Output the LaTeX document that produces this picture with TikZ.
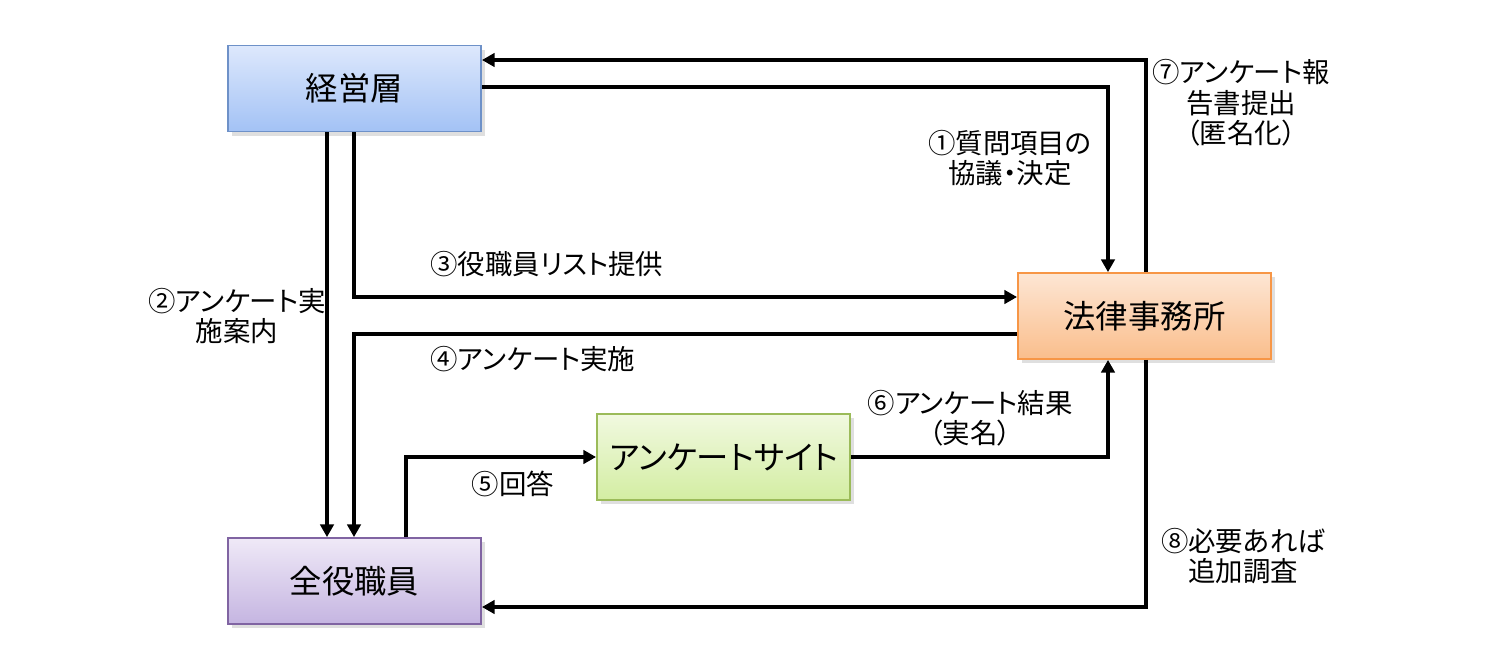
\documentclass[tikz,border=0pt]{standalone}
\usepackage{fontspec}
\setmainfont{Noto Sans CJK JP}[RawFeature={+palt}]
\usetikzlibrary{arrows.meta}
\usetikzlibrary{shadows}

\definecolor{mgmttop}{RGB}{221,232,252}
\definecolor{mgmtbot}{RGB}{163,194,245}
\definecolor{mgmtline}{RGB}{110,145,200}
\definecolor{lawtop}{RGB}{253,230,212}
\definecolor{lawbot}{RGB}{250,190,140}
\definecolor{lawline}{RGB}{247,150,70}
\definecolor{sitetop}{RGB}{241,249,224}
\definecolor{sitebot}{RGB}{211,237,162}
\definecolor{siteline}{RGB}{155,187,89}
\definecolor{stafftop}{RGB}{239,233,247}
\definecolor{staffbot}{RGB}{197,181,225}
\definecolor{staffline}{RGB}{128,100,162}

\begin{document}
\begin{tikzpicture}[
    x=0.01cm, y=-0.01cm,
    every node/.style={font=\fontsize{7.8}{8.7}\selectfont},
    box/.style={minimum width=2.53cm, minimum height=0.86cm, inner sep=0pt,
      line width=0.5pt, font=\fontsize{9.2}{11}\selectfont,
      drop shadow={shadow xshift=1.2pt, shadow yshift=-1.2pt, opacity=0.25}},
    arr/.style={line width=1pt, -{Triangle[length=3.6pt, width=3.8pt]}}
  ]

% Fix the page to the size of the reference (pixel units, y downwards)
\useasboundingbox (0,0) rectangle (1496,657);

% The four parties and the survey site
\node[box, draw=mgmtline, top color=mgmttop, bottom color=mgmtbot] (mgmt) at (354.5,88.5) {経営層};
\node[box, draw=lawline, top color=lawtop, bottom color=lawbot] (law) at (1144.5,316) {法律事務所};
\node[box, draw=siteline, top color=sitetop, bottom color=sitebot] (site) at (723.5,457) {アンケートサイト};
\node[box, draw=staffline, top color=stafftop, bottom color=staffbot] (staff) at (354.5,581) {全役職員};

% Bend points of the connectors
\coordinate (r7) at (1146,60);
\coordinate (r1) at (1108,87);
\coordinate (c2) at (327,0);
\coordinate (r3) at (354,297);
\coordinate (r4) at (354,334);
\coordinate (r5) at (406,457);
\coordinate (r6) at (1108,457);
\coordinate (r8) at (1146,607);

% Connectors between the parties
\draw[arr] (law.north -| r7) -- (r7) -- (mgmt.east |- r7); % report
\draw[arr] (mgmt.east |- r1) -- (r1) -- (law.north -| r1); % items
\draw[arr] (mgmt.south -| c2) -- (staff.north -| c2);      % notice
\draw[arr] (mgmt.south -| r3) -- (r3) -- (law.west |- r3); % list
\draw[arr] (law.west |- r4) -- (r4) -- (staff.north -| r4); % survey
\draw[arr] (staff.north -| r5) -- (r5) -- (site.west);      % answer
\draw[arr] (site.east) -- (r6) -- (law.south -| r6);        % result
\draw[arr] (law.south -| r8) -- (r8) -- (staff.east |- r8); % follow-up

% Labels of the connectors
\node[align=center] (l7) at (1241,103) {⑦アンケート報\\告書提出\\（匿名化）};
\node[align=center] (l1) at (1010,158) {①質問項目の\\協議・決定};
\node[anchor=west] (l3) at (418,264) {③役職員リスト提供};
\node[align=center] (l2) at (237,316) {②アンケート実\\施案内};
\node[anchor=west] (l4) at (418,359) {④アンケート実施};
\node[align=center] (l6) at (970,418) {⑥アンケート結果\\（実名）};
\node (l5) at (513,484) {⑤回答};
\node[align=center] (l8) at (1243,556) {⑧必要あれば\\追加調査};

\end{tikzpicture}
\end{document}
